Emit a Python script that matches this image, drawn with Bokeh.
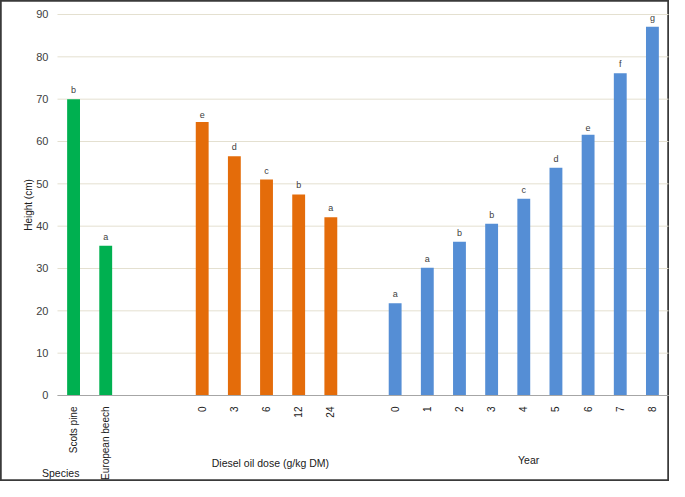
import math
from bokeh.plotting import figure
from bokeh.models import ColumnDataSource, FixedTicker, Range1d
from bokeh.core.properties import value
from bokeh.embed import file_html
from bokeh.resources import INLINE

# ---- data ----
species = ["Scots pine", "European beech"]
species_height = [70.0, 35.4]
species_letters = ["b", "a"]

doses = ["0", "3", "6", "12", "24"]
dose_height = [64.6, 56.5, 51.0, 47.5, 42.1]
dose_letters = ["e", "d", "c", "b", "a"]

years = ["0", "1", "2", "3", "4", "5", "6", "7", "8"]
year_height = [21.8, 30.2, 36.3, 40.6, 46.5, 53.8, 61.6, 76.1, 87.1]
year_letters = ["a", "a", "b", "b", "c", "d", "e", "f", "g"]

group_titles = ["Species", "Diesel oil dose (g/kg DM)", "Year"]
y_label = "Height (cm)"
y_ticks = [0, 10, 20, 30, 40, 50, 60, 70, 80, 90]

# ---- layout ----
FONT = "Liberation Sans"
TXT = "#404040"
species_start, dose_start, year_start = 0, 4, 10
sx = [species_start + i for i in range(len(species))]
dx = [dose_start + i for i in range(len(doses))]
yx = [year_start + i for i in range(len(years))]
x_lo, x_hi = -0.5, 18.5

p = figure(width=669, height=481, output_backend="svg", toolbar_location=None,
           x_range=Range1d(-2.272, 18.531), y_range=Range1d(-20.315, 93.307),
           min_border=0, min_border_left=0, min_border_right=0,
           min_border_top=0, min_border_bottom=0)
p.outline_line_color = "#3a3a3a"
p.outline_line_width = 2.5
p.background_fill_color = "white"
p.border_fill_color = "white"
p.xgrid.grid_line_color = None
p.ygrid.grid_line_color = None

# horizontal gridlines across the plot area only
p.segment(x0=[x_lo] * len(y_ticks), x1=[x_hi] * len(y_ticks), y0=y_ticks, y1=y_ticks,
          line_color="#e4e0d0", line_width=1)

groups = [
    (sx, species_height, species_letters, "#00b050"),
    (dx, dose_height, dose_letters, "#e46c0a"),
    (yx, year_height, year_letters, "#558ed5"),
]
for xs, hs, ls, col in groups:
    src = ColumnDataSource(dict(x=xs, top=hs, lab=ls))
    p.vbar(x="x", top="top", width=0.4, bottom=0, source=src,
           fill_color=col, line_color=None)
    p.text(x="x", y="top", text="lab", source=src, y_offset=-4,
           text_align="center", text_baseline="bottom",
           text_font=value(FONT), text_font_size="9px", text_color=TXT)

# y axis (drawn at the plot-area edge)
p.yaxis.fixed_location = x_lo
p.yaxis.ticker = FixedTicker(ticks=y_ticks)
p.yaxis.axis_line_color = None
p.yaxis.major_tick_line_color = None
p.yaxis.minor_tick_line_color = None
p.yaxis.major_label_text_font = FONT
p.yaxis.major_label_text_font_size = "11px"
p.yaxis.major_label_text_color = TXT
p.yaxis.major_label_standoff = 3

# x axis (drawn at zero)
ticks = sx + dx + yx
labels = species + doses + years
p.xaxis.fixed_location = 0
p.xaxis.bounds = (x_lo, x_hi)
p.xaxis.ticker = FixedTicker(ticks=ticks)
p.xaxis.major_label_overrides = {t: l for t, l in zip(ticks, labels)}
p.xaxis.major_label_orientation = math.pi / 2
p.xaxis.axis_line_color = "#a6a6a6"
p.xaxis.axis_line_width = 1
p.xaxis.major_tick_line_color = None
p.xaxis.minor_tick_line_color = None
p.xaxis.major_label_text_font = FONT
p.xaxis.major_label_text_font_size = "10px"
p.xaxis.major_label_text_color = "#202020"
p.xaxis.major_label_standoff = 5

# axis title and group titles
p.text(x=[-1.40], y=[45.0], text=[y_label], angle=math.pi / 2,
       text_align="center", text_baseline="middle",
       text_font=value(FONT), text_font_size="10px", text_color="#202020")
p.text(x=[-0.40, 6.12, 14.15], y=[-18.19, -16.06, -15.12], text=group_titles,
       text_align="center", text_baseline="middle",
       text_font=value(FONT), text_font_size="10.5px", text_color="#202020")

open("out.html", "w").write(file_html(p, INLINE))
